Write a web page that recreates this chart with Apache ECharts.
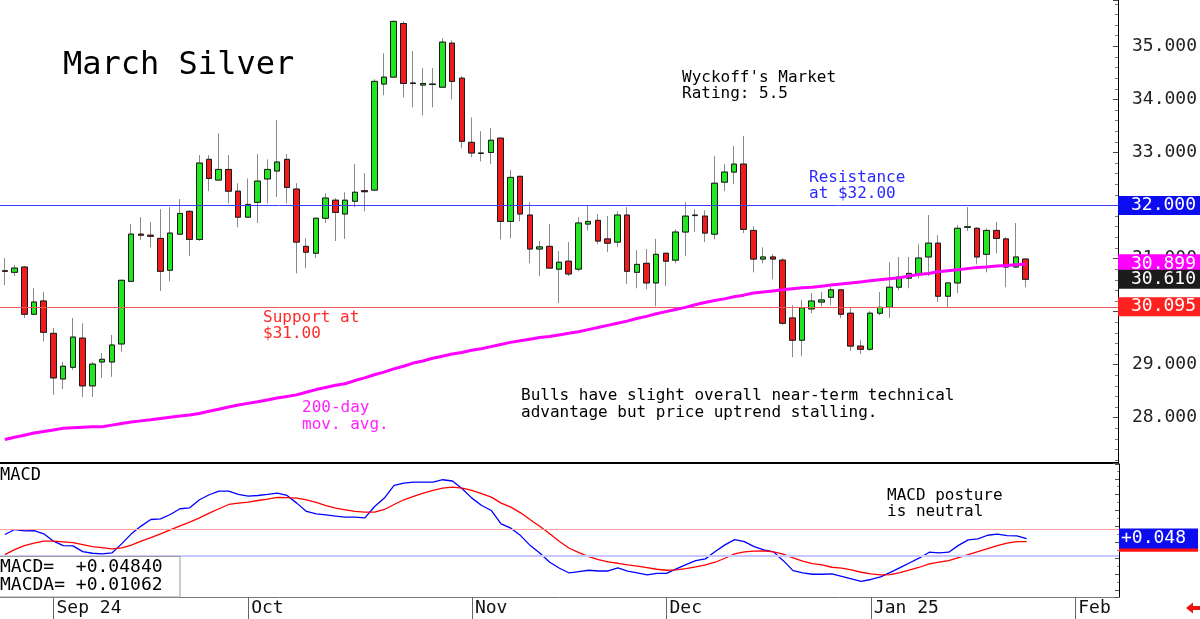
<!DOCTYPE html>
<html>
<head>
<meta charset="utf-8">
<script src="https://cdn.jsdelivr.net/npm/echarts/dist/echarts.min.js"></script>
<style>
html,body{margin:0;padding:0;background:#fff;}
#chart{width:1200px;height:619px;}
</style>
</head>
<body>
<div id="chart"></div>
<script>
// ---------- DATA ----------
const dates = [
'2024-08-26','2024-08-27','2024-08-28','2024-08-29','2024-08-30',
'2024-09-03','2024-09-04','2024-09-05','2024-09-06','2024-09-09','2024-09-10','2024-09-11','2024-09-12','2024-09-13',
'2024-09-16','2024-09-17','2024-09-18','2024-09-19','2024-09-20','2024-09-23','2024-09-24','2024-09-25','2024-09-26','2024-09-27','2024-09-30',
'2024-10-01','2024-10-02','2024-10-03','2024-10-04','2024-10-07','2024-10-08','2024-10-09','2024-10-10','2024-10-11',
'2024-10-14','2024-10-15','2024-10-16','2024-10-17','2024-10-18','2024-10-21','2024-10-22','2024-10-23','2024-10-24','2024-10-25',
'2024-10-28','2024-10-29','2024-10-30','2024-10-31',
'2024-11-01','2024-11-04','2024-11-05','2024-11-06','2024-11-07','2024-11-08','2024-11-11','2024-11-12','2024-11-13','2024-11-14','2024-11-15',
'2024-11-18','2024-11-19','2024-11-20','2024-11-21','2024-11-22','2024-11-25','2024-11-26','2024-11-27','2024-11-29',
'2024-12-02','2024-12-03','2024-12-04','2024-12-05','2024-12-06','2024-12-09','2024-12-10','2024-12-11','2024-12-12','2024-12-13',
'2024-12-16','2024-12-17','2024-12-18','2024-12-19','2024-12-20','2024-12-23','2024-12-24','2024-12-26','2024-12-27','2024-12-30','2024-12-31',
'2025-01-02','2025-01-03','2025-01-06','2025-01-07','2025-01-08','2025-01-09','2025-01-10','2025-01-13','2025-01-14','2025-01-15',
'2025-01-16','2025-01-17','2025-01-21','2025-01-22','2025-01-23','2025-01-24','2025-01-27',
'2025-01-28','2025-01-29','2025-01-30','2025-01-31','2025-02-03','2025-02-04','2025-02-05','2025-02-06','2025-02-07'
];
const monthLabels = {'2024-09':'Sep 24','2024-10':'Oct','2024-11':'Nov','2024-12':'Dec','2025-01':'Jan 25','2025-02':'Feb'};

const open = [30.77,30.74,30.84,29.95,30.20,29.59,28.73,28.95,29.50,28.60,29.05,29.05,29.39,30.57,31.46,31.44,31.38,30.78,31.46,31.89,
31.36,32.87,32.48,32.68,32.27,31.78,32.06,32.50,32.65,32.87,32.31,31.23,31.10,31.76,32.10,31.84,32.08,32.28,32.29,34.29,
34.42,35.43,34.31,34.27,34.28,34.23,35.06,34.40,33.19,32.98,33.00,33.27,31.70,32.55,31.82,31.18,31.23,30.80,30.95,30.80,
31.65,31.72,31.37,31.31,31.82,30.74,30.91,30.54,31.10,30.97,31.50,31.81,31.80,31.46,32.44,32.63,32.78,31.53,30.99,31.03,
30.97,29.88,29.46,30.05,30.18,30.27,30.41,29.97,29.35,29.29,29.97,30.08,30.46,30.63,30.71,31.03,31.29,30.29,30.54,31.59,
31.57,31.08,31.53,31.37,30.84,30.99];
const close = [30.76,30.82,29.95,30.18,29.61,28.75,28.97,29.52,28.60,29.01,29.10,29.37,30.59,31.46,31.44,31.42,30.76,31.48,31.85,31.36,
32.80,32.51,32.68,32.27,31.78,32.02,32.46,32.68,32.82,32.34,31.31,31.12,31.76,32.14,31.87,32.10,32.25,32.26,34.34,34.42,
35.47,34.30,34.30,34.30,34.29,35.08,34.34,33.21,32.99,32.99,33.23,31.70,32.53,31.84,31.18,31.22,30.82,30.93,30.71,31.67,
31.70,31.33,31.29,31.82,30.76,30.89,30.54,31.08,30.95,31.50,31.80,31.82,31.48,32.42,32.63,32.78,31.55,30.99,31.03,30.99,
29.78,29.46,30.07,30.20,30.22,30.41,29.95,29.35,29.29,29.97,30.08,30.46,30.65,30.72,31.01,31.29,30.29,30.54,31.57,31.60,
31.03,31.53,31.38,30.84,31.03,30.61];
const low = [30.50,30.67,29.88,29.93,29.44,28.43,28.54,28.90,28.39,28.39,28.75,28.77,29.24,30.57,31.35,31.21,30.39,30.57,31.44,31.05,
31.33,32.27,32.48,32.04,31.59,31.78,31.67,32.04,32.16,32.04,30.72,30.82,31.01,31.67,31.33,31.37,31.97,31.89,32.27,34.08,
34.42,34.04,33.85,33.70,33.85,34.23,34.00,33.08,32.91,32.83,32.78,31.36,31.38,31.70,30.91,30.67,30.82,30.16,30.67,30.76,
31.53,31.27,31.12,31.22,30.52,30.44,30.42,30.10,30.48,30.91,31.05,31.50,31.31,31.36,32.27,32.40,31.48,30.74,30.91,30.61,
29.75,29.14,29.16,29.97,30.10,30.12,29.88,29.26,29.20,29.26,29.93,29.88,30.40,30.44,30.63,30.67,30.18,30.08,30.35,31.52,
30.89,30.74,31.10,30.46,30.82,30.46];
const high = [31.01,30.88,30.86,30.44,30.37,29.69,29.05,29.88,29.78,29.05,29.22,29.56,30.60,31.65,31.78,31.69,31.93,31.97,32.12,31.91,
32.95,32.95,33.36,32.95,32.42,32.51,32.97,32.87,33.61,32.97,32.42,31.38,31.76,32.23,32.14,32.25,32.78,32.61,34.38,34.87,
35.49,35.47,34.91,34.59,34.59,35.15,35.11,34.44,33.66,33.40,33.46,33.27,32.67,32.55,32.06,31.33,31.65,31.14,31.31,31.78,
32.01,31.84,31.80,31.89,31.97,31.16,31.18,31.37,31.10,31.55,32.06,31.93,31.91,32.93,32.78,33.12,33.31,31.61,31.21,31.08,
31.01,30.12,30.22,30.35,30.37,30.46,30.42,30.08,29.46,30.01,30.37,30.93,31.03,31.03,31.27,31.82,31.44,30.54,31.63,31.97,
31.59,31.57,31.69,31.40,31.67,31.01];
const ma200 = [27.59,27.63,27.67,27.71,27.74,27.77,27.80,27.81,27.82,27.83,27.83,27.86,27.89,27.92,27.94,27.96,27.985,28.01,28.03,28.05,
28.08,28.12,28.16,28.20,28.24,28.27,28.30,28.335,28.37,28.40,28.43,28.48,28.53,28.57,28.61,28.64,28.70,28.75,28.81,28.86,
28.92,28.97,29.03,29.07,29.12,29.16,29.20,29.23,29.27,29.30,29.34,29.38,29.42,29.45,29.48,29.51,29.53,29.56,29.59,29.62,
29.66,29.70,29.74,29.78,29.82,29.87,29.91,29.96,30.00,30.04,30.08,30.13,30.17,30.21,30.24,30.28,30.31,30.35,30.37,30.39,
30.41,30.43,30.45,30.46,30.48,30.50,30.52,30.54,30.56,30.58,30.60,30.62,30.64,30.67,30.70,30.72,30.75,30.77,30.79,30.81,
30.83,30.84,30.86,30.87,30.885,30.899];
const macd = [0.099,0.162,0.145,0.149,0.108,0.016,-0.040,-0.044,-0.115,-0.136,-0.144,-0.132,-0.018,0.108,0.205,0.288,0.297,0.351,0.423,0.435,
0.536,0.599,0.646,0.646,0.603,0.583,0.590,0.603,0.620,0.590,0.494,0.389,0.360,0.347,0.331,0.318,0.318,0.309,0.452,0.557,
0.716,0.746,0.759,0.759,0.759,0.788,0.772,0.675,0.557,0.464,0.401,0.234,0.179,0.086,-0.040,-0.136,-0.249,-0.325,-0.384,-0.367,
-0.350,-0.359,-0.359,-0.321,-0.362,-0.384,-0.409,-0.388,-0.388,-0.333,-0.279,-0.229,-0.207,-0.115,-0.031,0.036,0.011,-0.052,-0.094,-0.119,
-0.229,-0.355,-0.384,-0.400,-0.400,-0.396,-0.427,-0.459,-0.491,-0.466,-0.432,-0.377,-0.317,-0.255,-0.195,-0.123,-0.132,-0.123,-0.037,0.032,
0.045,0.090,0.104,0.086,0.082,0.0484];
const macdAvg = [-0.153,-0.090,-0.040,-0.010,0.016,0.016,0.007,-0.002,-0.027,-0.052,-0.065,-0.081,-0.069,-0.035,0.016,0.061,0.108,0.158,0.208,0.255,
0.309,0.368,0.423,0.477,0.494,0.507,0.527,0.545,0.565,0.564,0.557,0.536,0.502,0.464,0.431,0.410,0.389,0.381,0.381,0.414,
0.477,0.536,0.578,0.620,0.653,0.683,0.696,0.683,0.653,0.612,0.570,0.494,0.444,0.372,0.284,0.200,0.108,0.011,-0.073,-0.128,
-0.178,-0.216,-0.245,-0.262,-0.283,-0.299,-0.317,-0.337,-0.350,-0.346,-0.330,-0.308,-0.283,-0.249,-0.199,-0.144,-0.119,-0.110,-0.107,-0.119,
-0.148,-0.195,-0.236,-0.267,-0.283,-0.312,-0.323,-0.346,-0.375,-0.396,-0.409,-0.405,-0.380,-0.346,-0.312,-0.270,-0.249,-0.229,-0.191,-0.153,
-0.115,-0.078,-0.040,-0.010,0.011,0.01062];
const resistance = 32.00;
const support = 30.095;
const macdBandHigh = 0.175;
const macdBandLow = -0.17;
const priceRange = [27.146, 35.8738];
const macdRange = [-0.686, 0.98573];

// ---------- BUILD ----------
const FONT = '"DejaVu Sans Mono", monospace';
const UP = '#22e622', DOWN = '#ee1c1c';
const CLEAR = 'rgba(0,0,0,0)';
const monthStart = dates.map((d, i) => i > 0 && d.slice(0, 7) !== dates[i - 1].slice(0, 7));
const ohlc = open.map((o, i) => [o, close[i], low[i], high[i]]);
const bodies = open.map((o, i) => [o, close[i], Math.min(o, close[i]), Math.max(o, close[i])]);
const lastClose = close[close.length - 1];
const lastMA = ma200[ma200.length - 1];
const lastMacd = macd[macd.length - 1];
const lastAvg = macdAvg[macdAvg.length - 1];
const sgn = v => (v >= 0 ? '+' : '');

function boxLabel(bg, text, padL, lh) {
  return { show: true, position: 'end', distance: 0, formatter: text, color: '#fff', opacity: 1,
    backgroundColor: bg, fontFamily: FONT, fontSize: 18, lineHeight: lh || 19,
    padding: [0, 12, 0, padL] };
}
function hline(value, color, width) {
  return { yAxis: value, lineStyle: { color: color, width: width, type: 'solid', opacity: 1 }, label: { show: false } };
}
function txt(x, yMid, text, size, color, lh) {
  return { type: 'text', x: x, y: yMid - lh / 2, z: 100,
    style: { text: text, fill: color, fontFamily: FONT, fontSize: size, lineHeight: lh, verticalAlign: 'top', align: 'left' } };
}

const chart = echarts.init(document.getElementById('chart'), null, { renderer: 'canvas' });
const option = {
  animation: false,
  backgroundColor: '#ffffff',
  grid: [
    { left: 0, top: 0, width: 1119, height: 463 },
    { left: 0, top: 464, width: 1119, height: 133 }
  ],
  xAxis: [
    { type: 'category', gridIndex: 0, data: dates, boundaryGap: true,
      axisLine: { show: true, onZero: false, lineStyle: { color: '#000', width: 2 } },
      axisTick: { show: false }, axisLabel: { show: false }, splitLine: { show: false } },
    { type: 'category', gridIndex: 1, data: dates, boundaryGap: true,
      axisLine: { show: true, onZero: false, lineStyle: { color: '#777', width: 1 } },
      axisTick: { show: true, alignWithLabel: true, interval: (i) => monthStart[i], length: 22, lineStyle: { color: '#666' } },
      axisLabel: { show: true, interval: (i) => monthStart[i], formatter: (v) => monthLabels[v.slice(0, 7)] || '',
        align: 'left', margin: 2, padding: [0, 0, 0, 3], fontFamily: FONT, fontSize: 18, color: '#111' },
      splitLine: { show: false } }
  ],
  yAxis: [
    { type: 'value', gridIndex: 0, position: 'right', min: priceRange[0], max: priceRange[1], splitNumber: 8,
      axisLine: { show: true, lineStyle: { color: '#000' } },
      axisTick: { show: true, inside: true, length: 5, lineStyle: { color: '#444' } },
      minorTick: { show: true, splitNumber: 5, length: 3, lineStyle: { color: '#777' } },
      splitLine: { show: false },
      axisLabel: { margin: 14, formatter: (v) => v.toFixed(3), fontFamily: FONT, fontSize: 18, color: '#222',
        showMinLabel: false, showMaxLabel: false } },
    { type: 'value', gridIndex: 1, position: 'right', min: macdRange[0], max: macdRange[1], splitNumber: 8,
      axisLine: { show: true, lineStyle: { color: '#000' } },
      axisTick: { show: true, inside: true, length: 4, lineStyle: { color: '#555' } },
      minorTick: { show: true, splitNumber: 2, length: 2, lineStyle: { color: '#888' } },
      splitLine: { show: false }, axisLabel: { show: false } }
  ],
  series: [
    { type: 'candlestick', xAxisIndex: 0, yAxisIndex: 0, data: ohlc, barWidth: 6,
      emphasis: { disabled: true },
      itemStyle: { color: UP, color0: DOWN, borderColor: '#8a8a8a', borderColor0: '#8a8a8a', borderWidth: 1 } },
    { type: 'candlestick', xAxisIndex: 0, yAxisIndex: 0, data: bodies, barWidth: 6,
      emphasis: { disabled: true },
      itemStyle: { color: UP, color0: DOWN, borderColor: '#1a1a1a', borderColor0: '#1a1a1a', borderWidth: 1 } },
    { type: 'line', xAxisIndex: 0, yAxisIndex: 0, data: ma200, showSymbol: false, symbol: 'none', z: 5,
      lineStyle: { color: '#ff00ff', width: 3 },
      markLine: { silent: true, symbol: ['none', 'none'], animation: false,
        emphasis: { disabled: true },
        data: [
          hline(support, '#f25a5a', 1),
          hline(resistance, '#3c3cff', 1),
          { yAxis: support, lineStyle: { color: CLEAR, width: 0 }, label: boxLabel('#ff2020', support.toFixed(3), 13) },
          { yAxis: resistance, lineStyle: { color: CLEAR, width: 0 }, label: boxLabel('#0c0cf0', resistance.toFixed(3), 13) },
          { yAxis: lastMA, lineStyle: { color: CLEAR, width: 0 }, label: boxLabel('#ff00ff', lastMA.toFixed(3), 13) },
          { yAxis: lastClose, lineStyle: { color: CLEAR, width: 0 }, label: boxLabel('#1c1c1c', lastClose.toFixed(3), 13) }
        ] } },
    { type: 'line', xAxisIndex: 1, yAxisIndex: 1, data: macd, showSymbol: false, symbol: 'none', z: 4,
      lineStyle: { color: '#0000ff', width: 1.3 } },
    { type: 'line', xAxisIndex: 1, yAxisIndex: 1, data: macdAvg, showSymbol: false, symbol: 'none', z: 4,
      lineStyle: { color: '#ff0000', width: 1.3 },
      markLine: { silent: true, symbol: ['none', 'none'], animation: false,
        emphasis: { disabled: true },
        data: [
          hline(macdBandLow, '#c8c8ff', 2),
          hline(macdBandHigh, '#ffa0a0', 1),
          { yAxis: lastAvg, lineStyle: { color: CLEAR, width: 0 }, label: boxLabel('#ff1010', sgn(lastAvg) + lastAvg.toFixed(3), 2, 20) },
          { yAxis: lastMacd, lineStyle: { color: CLEAR, width: 0 }, label: boxLabel('#0c0cf0', sgn(lastMacd) + lastMacd.toFixed(3), 2, 20) }
        ] } }
  ],
  graphic: [
    txt(63, 66, 'March Silver', 32, '#000', 34),
    txt(682, 77.5, "Wyckoff's Market\nRating: 5.5", 16, '#000', 16.5),
    txt(809, 178, 'Resistance\nat $32.00', 16, '#2a2aff', 16),
    txt(263, 318, 'Support at\n$31.00', 16, '#ff2a2a', 16),
    txt(302, 408, '200-day\nmov. avg.', 16, '#ff22ff', 16.5),
    txt(521, 396, 'Bulls have slight overall near-term technical\nadvantage but price uptrend stalling.', 16, '#000', 16.5),
    txt(887, 495.5, 'MACD posture\nis neutral', 16, '#000', 16),
    txt(0, 476, 'MACD', 17, '#000', 17),
    { type: 'rect', z: 90, shape: { x: -1, y: 556.5, width: 181, height: 40.5 },
      style: { fill: '#fff', stroke: '#9a9a9a', lineWidth: 1 } },
    txt(0, 567.5, 'MACD=  ' + sgn(lastMacd) + lastMacd.toFixed(5), 18, '#000', 18.5),
    txt(0, 585.5, 'MACDA= ' + sgn(lastAvg) + lastAvg.toFixed(5), 18, '#000', 18.5),
    { type: 'polygon', z: 100,
      shape: { points: [[1186, 608], [1193, 602.5], [1193, 606], [1200, 606], [1200, 610], [1193, 610], [1193, 613.5]] },
      style: { fill: '#ee1111' } }
  ]
};
chart.setOption(option);
</script>
</body>
</html>
